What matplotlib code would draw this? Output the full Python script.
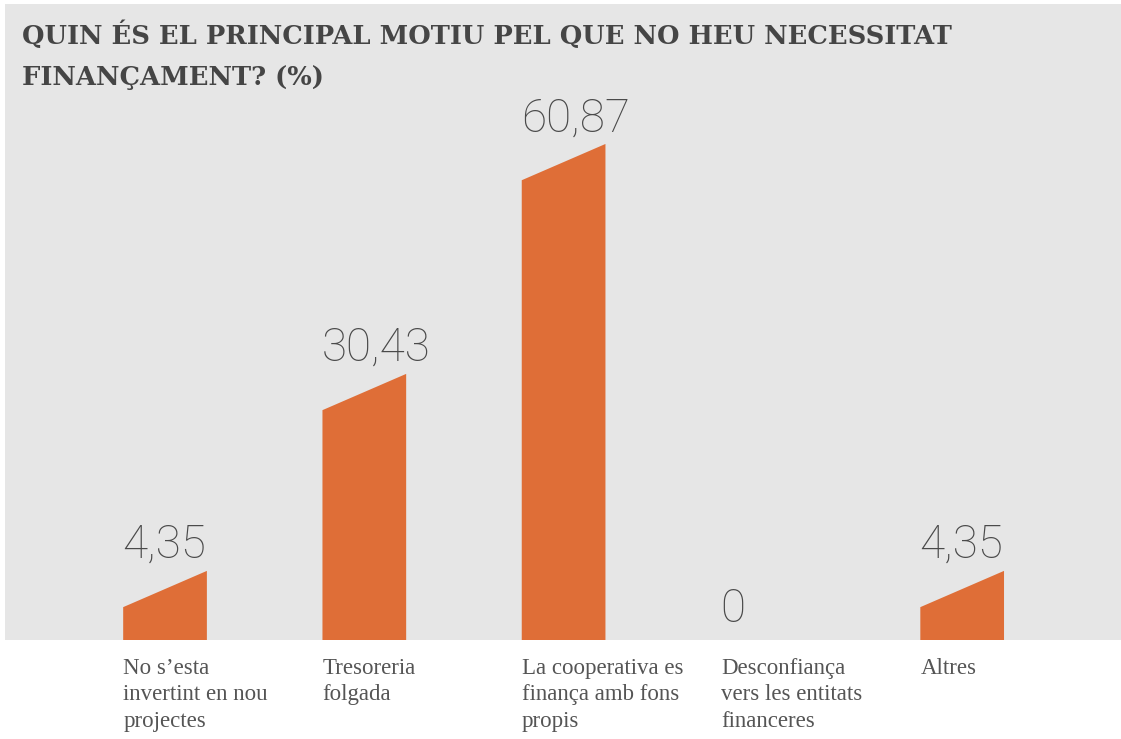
import matplotlib.pyplot as plt
from matplotlib.patches import Polygon

# data
categories = [
    "No s\u2019esta\ninvertint en nou\nprojectes",
    "Tresoreria\nfolgada",
    "La cooperativa es\nfinan\u00e7a amb fons\npropis",
    "Desconfian\u00e7a\nvers les entitats\nfinanceres",
    "Altres",
]
values = [4.35, 30.43, 60.87, 0, 4.35]
value_labels = ["4,35", "30,43", "60,87", "0", "4,35"]

title = "QUIN \u00c9S EL PRINCIPAL MOTIU PEL QUE NO HEU NECESSITAT\nFINAN\u00c7AMENT? (%)"

orange = "#df6e37"
panel = "#e6e6e6"
text_col = "#555555"

W, H = 1121, 739
fig = plt.figure(figsize=(W / 100, H / 100), dpi=100)
fig.patch.set_facecolor("white")

# gray panel = axes area
ax = fig.add_axes([5 / W, (H - 640) / H, 1 - 5 / W, 636 / H])
ax.set_facecolor(panel)
ax.set_xlim(-0.803, 4.797)
ax.set_ylim(0, 84.2)
for s in ax.spines.values():
    s.set_visible(False)
ax.set_xticks([])
ax.set_yticks([])

bar_w = 0.42
slant = 4.8

for i, (v, lab) in enumerate(zip(values, value_labels)):
    x0 = i - bar_w / 2
    x1 = i + bar_w / 2
    top = 0
    if v > 0:
        poly = Polygon([(x0, 0), (x1, 0), (x1, v + slant), (x0, v)],
                       closed=True, facecolor=orange, edgecolor="none")
        ax.add_patch(poly)
        top = v + slant
    ax.text(x0 - 0.005, top + (1.7 if v > 0 else 2.4), lab, ha="left", va="baseline",
            fontsize=33, color="#4a4a4a", family="Roboto", fontweight="light")
    ax.text(x0, -2.4, categories[i], ha="left", va="top", fontsize=16.5,
            color=text_col, family="Liberation Serif", linespacing=1.33,
            clip_on=False)

fig.text(22 / W, 1 - 21 / H, title, ha="left", va="top", fontsize=18.5,
         fontweight="bold", family="DejaVu Serif", color="#454545",
         linespacing=1.8)

fig.savefig("out.png", dpi=100, facecolor="white")
